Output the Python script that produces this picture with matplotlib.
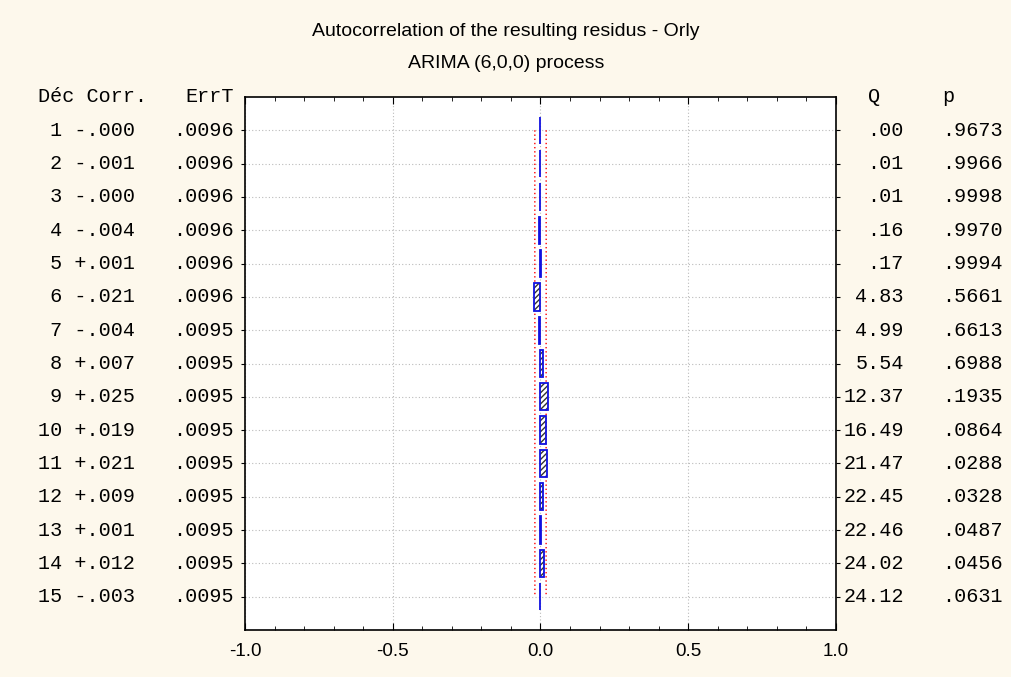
import matplotlib.pyplot as plt
import matplotlib.transforms as mtransforms
import numpy as np

lags = np.arange(1, 16)
corr = [-0.000, -0.001, -0.000, -0.004, 0.001, -0.021, -0.004, 0.007,
        0.025, 0.019, 0.021, 0.009, 0.001, 0.012, -0.003]
corr_txt = ["-.000", "-.001", "-.000", "-.004", "+.001", "-.021", "-.004", "+.007",
            "+.025", "+.019", "+.021", "+.009", "+.001", "+.012", "-.003"]
err_t = [0.0096] * 6 + [0.0095] * 9
err_txt = [".0096"] * 6 + [".0095"] * 9
q_txt = [".00", ".01", ".01", ".16", ".17", "4.83", "4.99", "5.54",
         "12.37", "16.49", "21.47", "22.45", "22.46", "24.02", "24.12"]
p_txt = [".9673", ".9966", ".9998", ".9970", ".9994", ".5661", ".6613", ".6988",
         ".1935", ".0864", ".0288", ".0328", ".0487", ".0456", ".0631"]

bg = "#fdf8ec"
W, H = 1012, 677
fig = plt.figure(figsize=(W / 100, H / 100), dpi=100, facecolor=bg)
ax = fig.add_axes([245 / W, 1 - 630 / H, (836 - 245) / W, (630 - 97) / H])
ax.set_facecolor("white")

# bars: hatched fill + blue outline
ax.barh(lags, corr, height=0.82, left=0, color="white", edgecolor="#333333",
        hatch="//////", linewidth=0, zorder=3)
ax.barh(lags, corr, height=0.82, left=0, fill=False, edgecolor="#1010e0",
        linewidth=1.3, zorder=4)

# confidence limits (+/- 2 ErrT)
lim = 2 * np.array(err_t)
ax.plot(lim, lags, color="red", ls=(0, (1, 2)), lw=1, zorder=2)
ax.plot(-lim, lags, color="red", ls=(0, (1, 2)), lw=1, zorder=2)

ax.set_xlim(-1, 1)
ax.set_ylim(16, 0)
ax.set_xticks([-1, -0.5, 0, 0.5, 1])
ax.set_xticklabels(["-1.0", "-0.5", "0.0", "0.5", "1.0"], fontsize=13.5,
                   family="Liberation Sans")
ax.set_xticks(np.arange(-1, 1.01, 0.1), minor=True)
ax.tick_params(axis="x", which="both", direction="in", top=True, bottom=True, pad=9)
ax.tick_params(axis="x", which="major", length=5)
ax.tick_params(axis="x", which="minor", length=3)
ax.set_yticks(lags)
ax.set_yticklabels([])
ax.tick_params(axis="y", direction="out", left=True, right=True, length=3)
ax.grid(True, which="major", color="#bbbbbb", ls=(0, (1, 2)), lw=0.8)
ax.set_axisbelow(True)
for s in ax.spines.values():
    s.set_linewidth(1.2)

fig.text(0.5, 1 - 31 / H, "Autocorrelation of the resulting residus - Orly",
         ha="center", va="center", fontsize=14, family="Liberation Sans")
fig.text(0.5, 1 - 63 / H, "ARIMA (6,0,0) process",
         ha="center", va="center", fontsize=14, family="Liberation Sans")

tr = mtransforms.blended_transform_factory(fig.transFigure, ax.transData)
mono = dict(family="Liberation Mono", fontsize=14.5, va="center", transform=tr)
ax.text(38 / W, 0, "Déc Corr.", ha="left", **mono)
ax.text(234 / W, 0, "ErrT", ha="right", **mono)
ax.text(874 / W, 0, "Q", ha="center", **mono)
ax.text(948 / W, 0, "p", ha="center", **mono)
for i, lag in enumerate(lags):
    ax.text(38 / W, lag, f"{lag:2d} {corr_txt[i]}", ha="left", **mono)
    ax.text(234 / W, lag, err_txt[i], ha="right", **mono)
    ax.text(904 / W, lag, q_txt[i], ha="right", **mono)
    ax.text(1003 / W, lag, p_txt[i], ha="right", **mono)

fig.savefig("out.png", dpi=100, facecolor=bg)
